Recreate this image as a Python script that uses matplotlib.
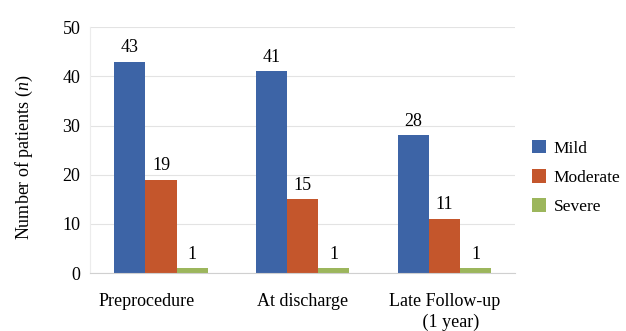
import numpy as np
import matplotlib
matplotlib.use("Agg")
import matplotlib.pyplot as plt
from matplotlib.transforms import ScaledTranslation

plt.rcParams['font.family'] = 'serif'
plt.rcParams['font.serif'] = ['Liberation Serif', 'DejaVu Serif']
plt.rcParams['mathtext.fontset'] = 'custom'
plt.rcParams['mathtext.it'] = 'Liberation Serif:italic'
plt.rcParams['mathtext.rm'] = 'Liberation Serif'

# Data
categories = ["Preprocedure", "At discharge", "Late Follow-up\n   (1 year)"]
mild = [43, 41, 28]
moderate = [19, 15, 11]
severe = [1, 1, 1]
series_names = ["Mild", "Moderate", "Severe"]
colors = ["#3d64a6", "#c4562c", "#9cb65c"]

fs = 13

fig = plt.figure(figsize=(6.26, 3.31), dpi=100)
ax = fig.add_axes([0.144, 0.175, 0.679, 0.743])

x = np.arange(len(categories))
w = 0.22
for k, (vals, name, col) in enumerate(zip([mild, moderate, severe], series_names, colors)):
    bars = ax.bar(x + (k - 1) * w, vals, w, color=col, label=name)
    for b, v in zip(bars, vals):
        ax.annotate(str(v), (b.get_x() + b.get_width() / 2, v),
                    xytext=(0, 4), textcoords="offset points",
                    ha="center", va="bottom", fontsize=fs)

ax.set_xlim(-0.5, 2.5)
ax.set_ylim(0, 50)
ax.set_yticks(range(0, 51, 10))
ax.set_xticks(x)
ax.set_xticklabels(categories, fontsize=fs, linespacing=1.3)
ax.tick_params(axis='both', length=0, labelsize=fs)
ax.tick_params(axis='y', pad=7)
ax.tick_params(axis='x', pad=14)
# first label sits a little left of its group in the original
lbl = ax.get_xticklabels()[0]
lbl.set_transform(lbl.get_transform() + ScaledTranslation(-0.14, 0, fig.dpi_scale_trans))

ax.yaxis.grid(True, color="#e3e3e3", linewidth=0.8)
ax.set_axisbelow(True)
for s in ["top", "right"]:
    ax.spines[s].set_visible(False)
ax.spines["left"].set_color("#ececec")
ax.spines["bottom"].set_color("#d0d0d0")

ax.set_ylabel("Number of patients ($\\mathit{n}$)", fontsize=fs)
ax.yaxis.set_label_coords(-0.13, 0.47)

leg = ax.legend(loc="center left", bbox_to_anchor=(1.0, 0.39), frameon=False,
                fontsize=12.5, handlelength=0.85, handleheight=0.85,
                labelspacing=0.7, handletextpad=0.4, borderaxespad=0.55)
for t in leg.get_texts():
    t.set_fontfamily('Liberation Serif')

plt.savefig("out.png", dpi=100)
